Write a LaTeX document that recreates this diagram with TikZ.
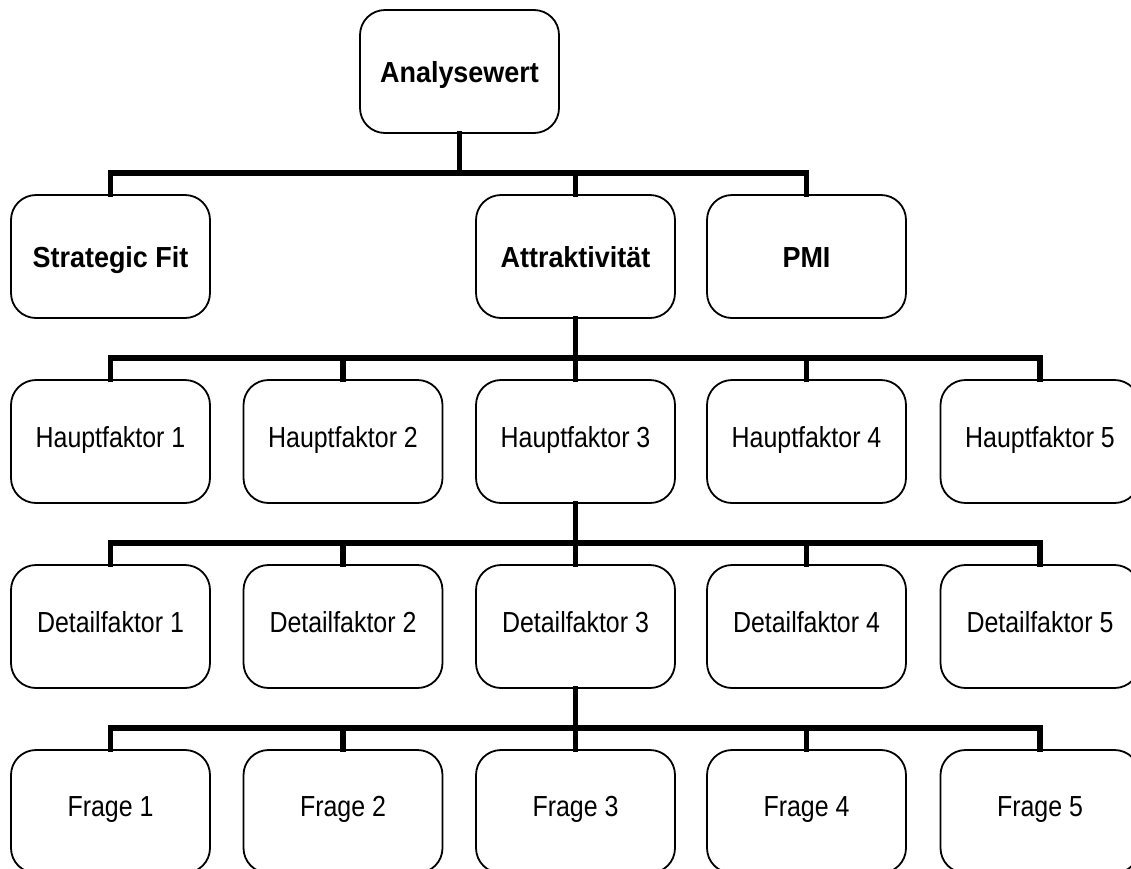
\documentclass[tikz,border=0pt]{standalone}
\usepackage{fontspec}
\setmainfont{Liberation Sans}[FakeStretch=0.86]
\newfontfamily\widebold{Liberation Sans}[FakeStretch=0.93]
\begin{document}
\begin{tikzpicture}[x=1pt,y=-1pt,
  box/.style={draw=black,line width=1.8pt,rounded corners=25pt,fill=white,
    minimum width=199pt,minimum height=123pt,inner sep=0pt,
    text height=21pt,text depth=0pt,
    font=\fontsize{29}{34}\selectfont},
  topbox/.style={box,font=\fontsize{29}{34}\selectfont\widebold\bfseries},
  lbl/.style={inner sep=0pt,text height=21pt,text depth=0pt,
    font=\fontsize{29}{34}\selectfont},
  conn/.style={line width=5.5pt,line join=miter,line cap=rect}]
\useasboundingbox (0,0) rectangle (1131,868);
\clip (0,0) rectangle (1131,868);

% level 0
\node[topbox] (ana) at (459.5,71.5) {Analysewert};
% level 1
\node[topbox] (sf)  at (110.5,256.5) {Strategic Fit};
\node[topbox] (att) at (575.5,256.5) {Attraktivität};
\node[topbox] (pmi) at (806.5,256.5) {PMI};
% levels 2-4: boxes, with their labels set a little above the centre
\foreach \i/\x in {1/110.5,2/343,3/575.5,4/806.5,5/1040}{
  \node[box] (h\i) at (\x,441.5) {};
  \node[box] (d\i) at (\x,626.5) {};
  \node[box] (f\i) at (\x,811.5) {};
  \node[lbl] (ht\i) at ([yshift=5pt]h\i.center) {Hauptfaktor \i};
  \node[lbl] (dt\i) at ([yshift=5pt]d\i.center) {Detailfaktor \i};
  \node[lbl] (ft\i) at ([yshift=5.5pt]f\i.center) {Frage \i};
}

% bus heights
\coordinate (b1) at (0,173);
\coordinate (b2) at (0,358);
\coordinate (b3) at (0,543);
\coordinate (b4) at (0,728);

\foreach \c in {sf,att,pmi}
  \draw[conn] (ana.south) -- (ana.south |- b1) -| (\c.north);
\foreach \i in {1,...,5}{
  \draw[conn] (att.south) -- (att.south |- b2) -| (h\i.north);
  \draw[conn] (h3.south) -- (h3.south |- b3) -| (d\i.north);
  \draw[conn] (d3.south) -- (d3.south |- b4) -| (f\i.north);
}
\end{tikzpicture}
\end{document}
